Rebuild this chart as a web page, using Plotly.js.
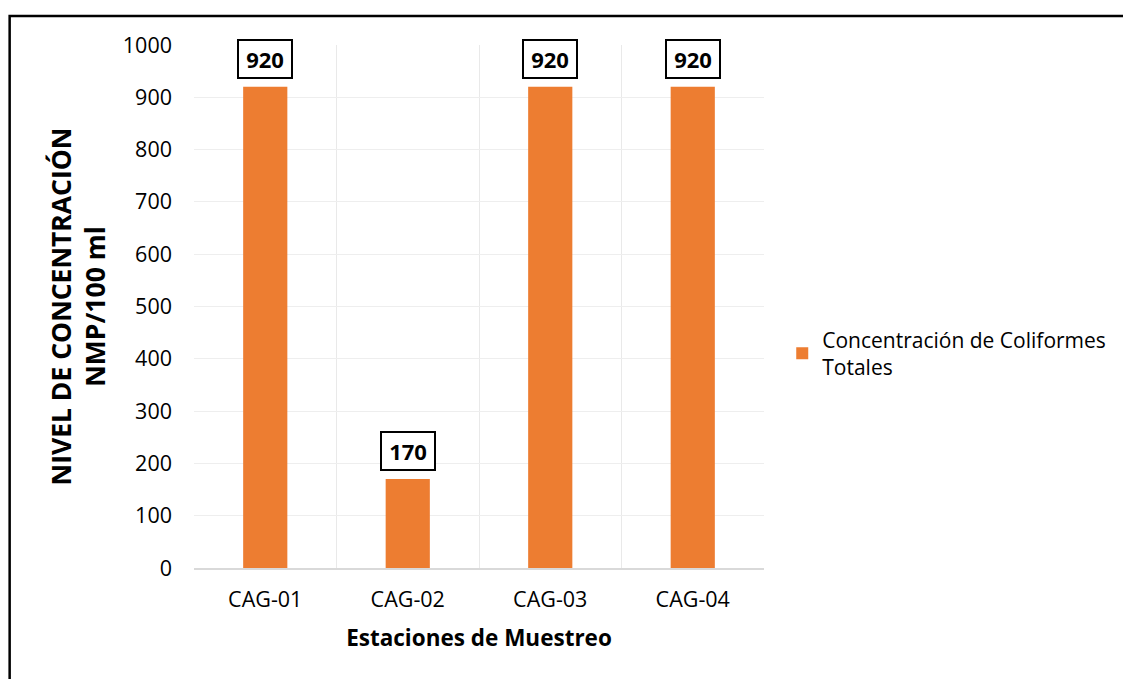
<!DOCTYPE html>
<html>
<head>
<meta charset="utf-8">
<script src="https://cdn.plot.ly/plotly-3.0.1.min.js"></script>
<style>html,body{margin:0;padding:0;background:#fff;}#chart{width:1123px;height:679px;}</style>
</head>
<body>
<div id="chart"></div>
<script>
const estaciones = ["CAG-01", "CAG-02", "CAG-03", "CAG-04"];
const concentracion = [920, 170, 920, 920];
const serieNombre = "Concentración de Coliformes<br>Totales";
const yTicks = [0, 100, 200, 300, 400, 500, 600, 700, 800, 900, 1000];

const FONT = "'Open Sans', sans-serif";

const trace = {
  type: "bar",
  x: estaciones,
  y: concentracion,
  name: serieNombre,
  marker: {color: "#ED7D31"},
  hoverinfo: "x+y"
};

const annotations = estaciones.map((e, i) => ({
  x: e, y: concentracion[i], xref: "x", yref: "y",
  text: "<b>" + concentracion[i] + "</b>",
  showarrow: false, yanchor: "bottom", yshift: 8,
  font: {family: FONT, size: 22, color: "#000"},
  width: 52, height: 36,
  bordercolor: "#000", borderwidth: 2, borderpad: 0, bgcolor: "#fff"
}));

const layout = {
  width: 1123, height: 679,
  margin: {l: 194, r: 357, t: 45, b: 111},
  paper_bgcolor: "#fff", plot_bgcolor: "#fff",
  font: {family: FONT, size: 21, color: "#000"},
  bargap: 0.69,
  showlegend: true,
  legend: {x: 1.032, xanchor: "left", y: 0.41, yanchor: "middle",
           font: {family: FONT, size: 21, color: "#000"}, itemwidth: 30},
  xaxis: {
    type: "category",
    tickson: "boundaries",
    showgrid: true, gridcolor: "#e9e9e9", gridwidth: 1,
    showline: true, linecolor: "#d9d9d9", linewidth: 2,
    ticks: "", ticklabelstandoff: 11,
    tickfont: {family: FONT, size: 21.5, color: "#000"},
    title: {text: "<b>Estaciones de Muestreo</b>", font: {family: FONT, size: 22.5, color: "#000"}, standoff: 18}
  },
  yaxis: {
    range: [0, 1000],
    tickvals: yTicks,
    showgrid: true, gridcolor: "#eeeeee", gridwidth: 1,
    zeroline: false, showline: false,
    ticks: "", ticklabelstandoff: 21,
    tickfont: {family: FONT, size: 21.5, color: "#000"},
    title: {text: "<b>NIVEL DE CONCENTRACIÓN<br>NMP/100 ml</b>", font: {family: FONT, size: 26.5, color: "#000"}, standoff: 9}
  },
  annotations: annotations,
  shapes: [{
    type: "rect", xref: "paper", yref: "paper",
    x0: -185/572, x1: (1140-194)/572, y0: -125/523, y1: (568-16)/523,
    line: {color: "#000", width: 2.5}, fillcolor: "rgba(0,0,0,0)"
  }]
};

Plotly.newPlot("chart", [trace], layout, {displayModeBar: false, staticPlot: true});
</script>
</body>
</html>
